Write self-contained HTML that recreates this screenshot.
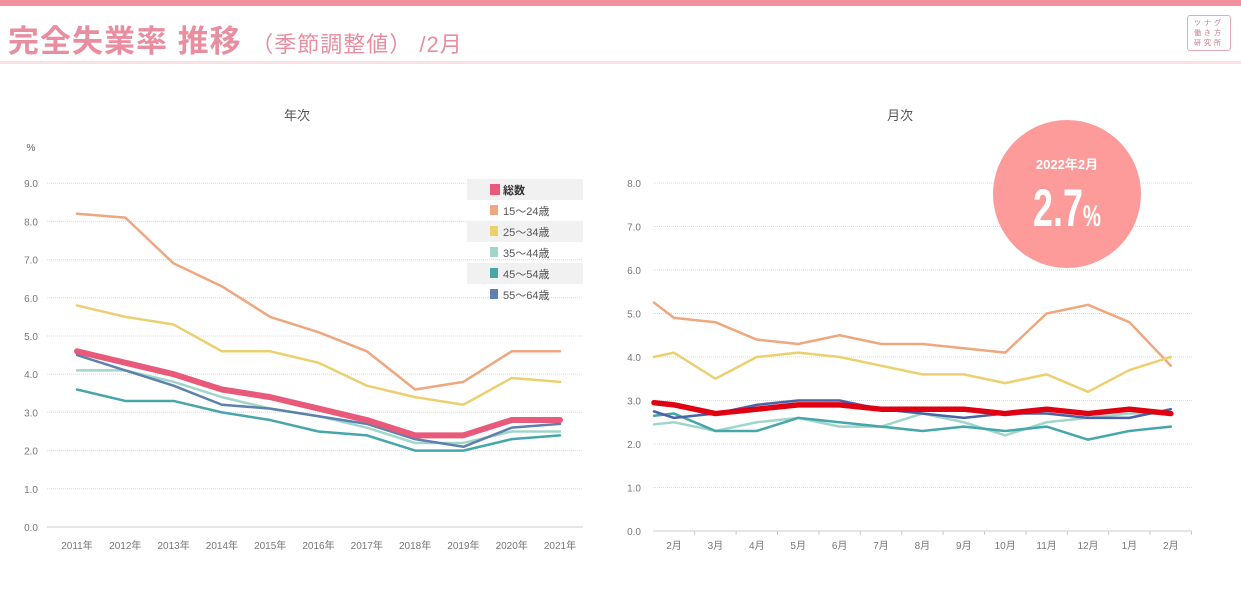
<!DOCTYPE html>
<html><head><meta charset="utf-8">
<style>
html,body{margin:0;padding:0;background:#fff;}
body{width:1241px;height:610px;overflow:hidden;position:relative;font-family:"Liberation Sans","Noto Sans CJK JP",sans-serif;}
#topbar{position:absolute;left:0;top:0;width:1241px;height:6px;background:#f4919f;}
#title{position:absolute;left:8px;top:16px;font-size:31px;font-weight:bold;color:#e98da0;white-space:nowrap;letter-spacing:1px;}
#title span.sub{font-size:22px;font-weight:normal;}
#rule{position:absolute;left:0;top:61px;width:1241px;height:3px;background:#f8e2e6;}
#logo{position:absolute;left:1187px;top:15px;width:44px;height:36px;border:1px solid #e6aab6;border-radius:3px;font-size:7px;color:#c0788a;line-height:10px;text-align:center;padding-top:3px;box-sizing:border-box;letter-spacing:3px;}
svg{position:absolute;left:0;top:0;}
</style></head><body>
<div id="topbar"></div>
<div id="title">完全失業率 推移 <span class="sub">（季節調整値） /2月</span></div>
<div id="rule"></div>
<div id="logo">ツナグ<br>働き方<br>研究所</div>
<svg id="chart" width="1241" height="610"></svg>
<script>
const yearCats=["2011年","2012年","2013年","2014年","2015年","2016年","2017年","2018年","2019年","2020年","2021年"];
const yTotal=[4.6,4.3,4.0,3.6,3.4,3.1,2.8,2.4,2.4,2.8,2.8];
const y1524=[8.2,8.1,6.9,6.3,5.5,5.1,4.6,3.6,3.8,4.6,4.6];
const y2534=[5.8,5.5,5.3,4.6,4.6,4.3,3.7,3.4,3.2,3.9,3.8];
const y3544=[4.1,4.1,3.8,3.4,3.1,2.9,2.6,2.2,2.2,2.5,2.5];
const y4554=[3.6,3.3,3.3,3.0,2.8,2.5,2.4,2.0,2.0,2.3,2.4];
const y5564=[4.5,4.1,3.7,3.2,3.1,2.9,2.7,2.3,2.1,2.6,2.7];
const leftTicks=[0,1,2,3,4,5,6,7,8,9];
const monthCats=["","2月","3月","4月","5月","6月","7月","8月","9月","10月","11月","12月","1月","2月"];
const mTotal=[2.95,2.9,2.7,2.8,2.9,2.9,2.8,2.8,2.8,2.7,2.8,2.7,2.8,2.7];
const m1524=[5.25,4.9,4.8,4.4,4.3,4.5,4.3,4.3,4.2,4.1,5.0,5.2,4.8,3.8];
const m2534=[4.0,4.1,3.5,4.0,4.1,4.0,3.8,3.6,3.6,3.4,3.6,3.2,3.7,4.0];
const m3544=[2.45,2.5,2.3,2.5,2.6,2.4,2.4,2.7,2.5,2.2,2.5,2.6,2.7,2.7];
const m4554=[2.65,2.7,2.3,2.3,2.6,2.5,2.4,2.3,2.4,2.3,2.4,2.1,2.3,2.4];
const m5564=[2.75,2.6,2.7,2.9,3.0,3.0,2.8,2.7,2.6,2.7,2.7,2.6,2.6,2.8];
const rightTicks=[0,1,2,3,4,5,6,7,8];
const legendLabels=["総数","15～24歳","25～34歳","35～44歳","45～54歳","55～64歳"];

const svg=document.getElementById('chart');
const NS="http://www.w3.org/2000/svg";
function mk(tag,attrs,parent){const e=document.createElementNS(NS,tag);for(const k in attrs)e.setAttribute(k,attrs[k]);(parent||svg).appendChild(e);return e;}
function txt(x,y,s,size,fill,anchor,parent){const t=mk('text',{x:x,y:y,'font-size':size,fill:fill,'text-anchor':anchor||'middle','font-family':'"Liberation Sans","Noto Sans CJK JP",sans-serif'},parent);t.textContent=s;return t;}

const lx=i=>77+i*48.3;
const ly=v=>527-v*38.2;
const L=mk('g',{});


txt(297,120,"年次",13,"#555","middle",L);
txt(31,151,"%",10,"#666","middle",L);
leftTicks.forEach(v=>{
  const g=mk('line',{x1:47,x2:583,y1:ly(v),y2:ly(v),stroke:v===0?'#ccc':'#ddd','stroke-dasharray':v===0?'':'1,1'},L);
  
  
  const t=txt(38,ly(v)+4,v.toFixed(1),10,"#777","end",L);
  
  
});
yearCats.forEach((c,i)=>{
  const t=txt(lx(i),549,c,10,"#777","middle",L);
  
  
});
function series(arr,xf,yf,color,w,name,parent){
  const p=mk('polyline',{points:arr.map((v,i)=>xf(i)+','+yf(v)).join(' '),fill:'none',stroke:color,'stroke-width':w,'stroke-linejoin':'round','stroke-linecap':'round'},parent);
  
  
}
const colors=["#e8597a","#eea77e","#ecd06f","#a0d6c9","#46a6aa","#5d80ad"];
series(y1524,lx,ly,colors[1],2.5,'line-15-24',L);
series(y2534,lx,ly,colors[2],2.5,'line-25-34',L);
series(y3544,lx,ly,colors[3],2.5,'line-35-44',L);
series(y4554,lx,ly,colors[4],2.5,'line-45-54',L);
series(y5564,lx,ly,colors[5],2.5,'line-55-64',L);
series(yTotal,lx,ly,colors[0],6,'line-total',L);
legendLabels.forEach((s,i)=>{
  const y=179+i*21;
  if(i%2===0){const r=mk('rect',{x:467,y:y,width:116,height:21,fill:'#f1f1f1'},L);}
  const sw=mk('rect',{x:490,y:y+5,width:i===0?10:8,height:i===0?11:10,fill:colors[i]},L);
  
  
  const t=txt(503,y+15,s,11,i===0?"#333":"#555","start",L);
  if(i===0)t.setAttribute('font-weight','bold');
  
  
});

const rx=i=>i===0?654:674+(i-1)*41.4;
const ry=v=>531-v*43.5;
const R=mk('g',{});


txt(900,120,"月次",13,"#555","middle",R);
rightTicks.forEach(v=>{
  const g=mk('line',{x1:653,x2:1192,y1:ry(v),y2:ry(v),stroke:v===0?'#ccc':'#ddd','stroke-dasharray':v===0?'':'1,1'},R);
  
  
  const t=txt(641,ry(v)+4,v.toFixed(1),10,"#777","end",R);
  
  
});
monthCats.forEach((c,i)=>{
  if(!c)return;
  const t=txt(rx(i),549,c,10,"#777","middle",R);
  
  
  const tk=mk('line',{x1:rx(i)+20.7,x2:rx(i)+20.7,y1:531,y2:535,stroke:'#ccc'},R);
  
  
});
series(m1524,rx,ry,colors[1],2.5,'month-line-15-24',R);
series(m2534,rx,ry,colors[2],2.5,'month-line-25-34',R);
series(m3544,rx,ry,colors[3],2.5,'month-line-35-44',R);
series(m4554,rx,ry,colors[4],2.5,'month-line-45-54',R);
series(m5564,rx,ry,"#4a62a8",2.5,'month-line-55-64',R);
series(mTotal,rx,ry,"#e00012",5.5,'month-line-total',R);

const c=mk('circle',{cx:1067,cy:194,r:74,fill:'#fd9a9a'});


const b1=txt(1067,169,"2022年2月",13,"#fff","middle");
b1.setAttribute('font-weight','bold');


const b2=mk('text',{x:0,y:0,'text-anchor':'middle',fill:'#fff','font-weight':'bold','font-family':'"Liberation Sans Narrow","Liberation Sans",sans-serif',transform:'translate(1067,226) scale(0.78,1.15)'});
b2.innerHTML='<tspan font-size="46">2.7</tspan><tspan font-size="26">%</tspan>';


</script>
</body></html>
